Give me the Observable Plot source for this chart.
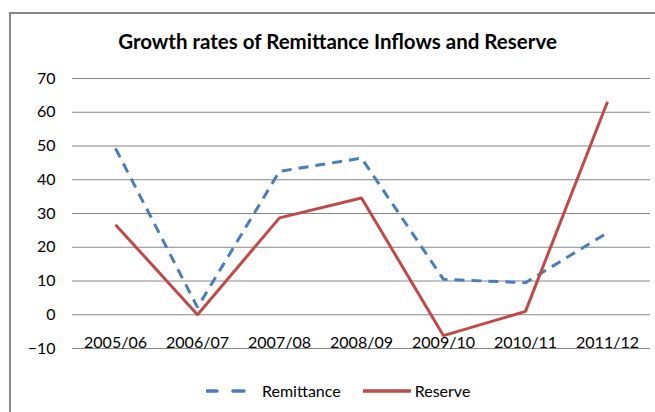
<!DOCTYPE html>
<html>
<head>
<meta charset="utf-8">
<script src="https://cdn.jsdelivr.net/npm/d3@7"></script>
<script src="https://cdn.jsdelivr.net/npm/@observablehq/plot@0.6"></script>
<style>
  html, body { margin: 0; padding: 0; background: #fff; }
  #wrap { position: relative; width: 655px; height: 412px; overflow: hidden; font-family: Lato, "Open Sans", sans-serif; }
  #frame { position: absolute; left: 9px; top: 12px; width: 700px; height: 500px; border-left: 2px solid #868686; border-top: 2px solid #868686; box-sizing: border-box; }
  #chart { position: absolute; left: 0; top: 0; }
  #title { position: absolute; left: 0; width: 675px; top: 29px; text-align: center; font-weight: bold; font-size: 20.5px; color: #000; }
  #legend { position: absolute; top: 381px; left: 206px; display: flex; align-items: center; font-size: 16px; color: #000; }
  .item { display: flex; align-items: center; }
  .item span { margin-left: 14px; }
</style>
</head>
<body>
<div id="wrap">
  <div id="frame"></div>
  <div id="chart"></div>
  <div id="title">Growth rates of Remittance Inflows and Reserve</div>
  <div id="legend"></div>
</div>
<script>
const categories = ["2005/06", "2006/07", "2007/08", "2008/09", "2009/10", "2010/11", "2011/12"];
const remittance = [49.3, 2.2, 42.5, 46.4, 10.5, 9.5, 24.3];
const reserve = [26.7, 0.0, 28.7, 34.6, -6.2, 1.0, 63.1];
const yTicks = [-10, 0, 10, 20, 30, 40, 50, 60, 70];
const seriesNames = ["Remittance", "Reserve"];
const colors = ["#4A7EBB", "#BE4B48"];
const dashes = ["10,7", null];

const rows = [];
categories.forEach((c, i) => {
  rows.push({cat: c, value: remittance[i], series: seriesNames[0]});
  rows.push({cat: c, value: reserve[i], series: seriesNames[1]});
});

const plot = Plot.plot({
  width: 655,
  height: 412,
  marginLeft: 72,
  marginRight: 5,
  marginTop: 78,
  marginBottom: 64,
  style: {fontFamily: "Lato, 'Open Sans', sans-serif", fontSize: "16px", color: "#000", background: "transparent"},
  x: {type: "point", domain: categories, padding: 0.5},
  y: {domain: [-10, 70]},
  marks: [
    Plot.gridY(yTicks, {stroke: "#868686", strokeOpacity: 1, strokeWidth: 1}),
    Plot.axisY(yTicks, {tickSize: 0, tickPadding: 17, label: null, fontSize: 16}),
    Plot.axisX({tickSize: 0, tickPadding: -12, label: null, fontSize: 16}),
    ...seriesNames.map((s, k) => Plot.line(rows.filter(r => r.series === s), {
      x: "cat", y: "value", stroke: colors[k], strokeWidth: 3,
      strokeDasharray: dashes[k], strokeLinejoin: "miter", strokeLinecap: "butt"
    }))
  ]
});
document.getElementById("chart").appendChild(plot);

const legend = document.getElementById("legend");
seriesNames.forEach((s, k) => {
  const item = document.createElement("div");
  item.className = "item";
  if (k > 0) item.style.marginLeft = "22px";
  const w = k === 0 ? 42 : 48;
  item.innerHTML = `<svg width="${w}" height="8"><line x1="0" y1="4" x2="${w}" y2="4" stroke="${colors[k]}" stroke-width="3.5" ${dashes[k] ? `stroke-dasharray="11,16"` : ""} stroke-linecap="round"/></svg><span>${s}</span>`;
  if (k > 0) item.querySelector("span").style.marginLeft = "4px";
  legend.appendChild(item);
});
</script>
</body>
</html>
